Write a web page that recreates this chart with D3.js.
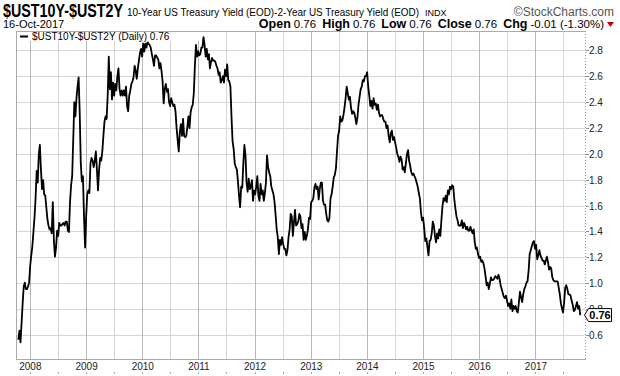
<!DOCTYPE html>
<html>
<head>
<meta charset="utf-8">
<script src="https://cdn.jsdelivr.net/npm/d3@7"></script>
<style>
  body { margin: 0; background: #fff; }
  svg { display: block; }
  text { font-family: "Liberation Sans", Arial, sans-serif; }
</style>
</head>
<body>
<div id="chart"></div>
<script>
// weekly closes of the 10Y-2Y spread, first week starting 2007-10-15
const weekStart = '2007-10-15'
const spread = [
  0.57, 0.64, 0.55, 0.70, 0.85, 0.98, 1.01, 0.96, 0.96, 0.98,
  1.01, 1.14, 1.22, 1.29, 1.40, 1.51, 1.66, 1.87, 1.78, 2.00,
  2.07, 1.88, 1.73, 1.80, 1.69, 1.68, 1.59, 1.50, 1.45, 1.42,
  1.43, 1.39, 1.63, 1.34, 1.21, 1.28, 1.41, 1.37, 1.47, 1.45,
  1.45, 1.46, 1.47, 1.45, 1.48, 1.48, 1.41, 1.40, 1.63, 1.76,
  1.83, 2.11, 2.40, 2.29, 2.43, 2.52, 2.59, 2.32, 1.93, 1.79,
  1.83, 1.52, 1.28, 1.52, 1.69, 1.72, 1.70, 1.93, 1.97, 1.95,
  1.90, 1.95, 2.02, 1.88, 1.72, 1.88, 1.97, 1.95, 2.02, 2.14,
  2.25, 2.29, 2.27, 2.45, 2.75, 2.50, 2.63, 2.42, 2.55, 2.45,
  2.54, 2.49, 2.60, 2.66, 2.50, 2.45, 2.49, 2.45, 2.49, 2.45,
  2.52, 2.37, 2.33, 2.45, 2.49, 2.54, 2.56, 2.59, 2.68, 2.64,
  2.58, 2.66, 2.72, 2.78, 2.81, 2.75, 2.85, 2.79, 2.85, 2.82,
  2.86, 2.85, 2.84, 2.82, 2.77, 2.73, 2.68, 2.76, 2.76, 2.74,
  2.73, 2.66, 2.70, 2.64, 2.56, 2.39, 2.50, 2.54, 2.48, 2.50,
  2.40, 2.37, 2.43, 2.40, 2.37, 2.38, 2.33, 2.20, 2.11, 2.02,
  2.17, 2.23, 2.14, 2.27, 2.14, 2.13, 2.14, 2.21, 2.29, 2.20,
  2.32, 2.36, 2.38, 2.47, 2.68, 2.84, 2.75, 2.79, 2.76, 2.77,
  2.82, 2.82, 2.90, 2.84, 2.75, 2.81, 2.73, 2.77, 2.66, 2.71,
  2.74, 2.72, 2.72, 2.71, 2.68, 2.66, 2.61, 2.63, 2.55, 2.57,
  2.60, 2.55, 2.65, 2.60, 2.69, 2.57, 2.56, 2.52, 2.29, 2.10,
  2.04, 1.93, 1.90, 1.88, 1.79, 1.68, 1.59, 1.75, 1.74, 1.93,
  2.07, 1.99, 1.78, 1.71, 1.81, 1.73, 1.75, 1.80, 1.64, 1.72,
  1.69, 1.75, 1.83, 1.68, 1.64, 1.77, 1.69, 1.72, 1.64, 1.70,
  1.78, 1.99, 1.90, 1.86, 1.83, 1.75, 1.72, 1.69, 1.63, 1.53,
  1.42, 1.36, 1.23, 1.34, 1.30, 1.36, 1.31, 1.27, 1.27, 1.22,
  1.26, 1.36, 1.42, 1.54, 1.52, 1.37, 1.47, 1.57, 1.45, 1.46,
  1.48, 1.54, 1.52, 1.43, 1.46, 1.34, 1.40, 1.34, 1.37, 1.42,
  1.51, 1.50, 1.63, 1.64, 1.66, 1.74, 1.77, 1.73, 1.75, 1.65,
  1.73, 1.78, 1.78, 1.64, 1.61, 1.61, 1.54, 1.49, 1.48, 1.51,
  1.66, 1.69, 1.75, 1.82, 1.84, 1.89, 2.02, 2.14, 2.18, 2.29,
  2.25, 2.26, 2.30, 2.36, 2.43, 2.52, 2.47, 2.42, 2.44, 2.36,
  2.31, 2.33, 2.32, 2.28, 2.23, 2.28, 2.38, 2.44, 2.50, 2.52,
  2.57, 2.56, 2.60, 2.60, 2.63, 2.52, 2.45, 2.37, 2.41, 2.35,
  2.43, 2.38, 2.39, 2.34, 2.38, 2.32, 2.29, 2.30, 2.30, 2.27,
  2.25, 2.25, 2.20, 2.22, 2.14, 2.09, 2.16, 2.18, 2.11, 2.13,
  2.09, 2.05, 2.00, 1.98, 1.94, 1.98, 1.96, 1.88, 1.90, 1.86,
  1.93, 2.00, 2.03, 1.95, 1.91, 1.86, 1.84, 1.85, 1.83, 1.81,
  1.78, 1.75, 1.70, 1.66, 1.55, 1.49, 1.51, 1.43, 1.33, 1.35,
  1.29, 1.22, 1.33, 1.34, 1.39, 1.48, 1.45, 1.37, 1.32, 1.39,
  1.35, 1.42, 1.37, 1.49, 1.60, 1.66, 1.64, 1.68, 1.63, 1.72,
  1.69, 1.75, 1.73, 1.76, 1.75, 1.65, 1.58, 1.52, 1.49, 1.45,
  1.45, 1.45, 1.49, 1.43, 1.47, 1.45, 1.42, 1.44, 1.41, 1.41,
  1.44, 1.41, 1.39, 1.42, 1.32, 1.27, 1.28, 1.23, 1.20, 1.21,
  1.17, 1.18, 1.16, 1.12, 1.06, 0.99, 1.01, 0.96, 1.00, 1.05,
  1.03, 1.03, 1.04, 1.06, 1.05, 1.04, 1.07, 1.04, 0.99, 0.96,
  0.93, 0.90, 0.89, 0.91, 0.87, 0.83, 0.85, 0.81, 0.88, 0.79,
  0.83, 0.81, 0.83, 0.79, 0.78, 0.86, 0.94, 0.90, 0.86, 0.92,
  0.96, 0.98, 1.01, 1.02, 1.10, 1.23, 1.26, 1.29, 1.32, 1.33,
  1.27, 1.30, 1.19, 1.22, 1.26, 1.22, 1.20, 1.18, 1.18, 1.15,
  1.18, 1.21, 1.17, 1.11, 1.13, 1.12, 1.05, 1.03, 1.02, 1.02,
  1.02, 1.02, 0.97, 0.92, 0.85, 0.81, 0.78, 0.86, 0.97, 0.99,
  0.96, 0.92, 0.92, 0.91, 0.87, 0.84, 0.79, 0.80, 0.83, 0.86,
  0.81, 0.83, 0.76
]
const yTicks = [0.6, 0.8, 1.0, 1.2, 1.4, 1.6, 1.8, 2.0, 2.2, 2.4, 2.6, 2.8]
const xDomain = ['2007-10-03', '2017-11-19']
const yDomain = [0.418, 2.944]

const symbol = '$UST10Y-$UST2Y'
const subtitle = '10-Year US Treasury Yield (EOD)-2-Year US Treasury Yield (EOD)'
const exchange = 'INDX'
const asOf = '16-Oct-2017'
const quote = [['Open', '0.76'], ['High', '0.76'], ['Low', '0.76'], ['Close', '0.76'], ['Chg', '-0.01 (-1.30%)']]
const lastValue = 0.76

let dms = {
    width: 620,
    height: 376,
    left: 16,
    right: 585,
    top: 31,
    bottom: 359
}

const parse = d3.timeParse('%Y-%m-%d')
const start = parse(weekStart)
const dataset = spread.map((v, i) => ({ date: d3.timeWeek.offset(start, i), value: v }))

const svg = d3.select('#chart').append('svg')
    .attr('width', dms.width)
    .attr('height', dms.height)

// layers, back to front
const gridLayer = svg.append('g').attr('id', 'grid')
const lineLayer = svg.append('g').attr('id', 'series')
const axisLayer = svg.append('g').attr('id', 'axes')
const legendLayer = svg.append('g').attr('id', 'legend')
const headLayer = svg.append('g').attr('id', 'head')

const xScale = d3.scaleTime()
    .domain(xDomain.map(parse))
    .range([dms.left + 0.5, dms.right + 0.5])
const yScale = d3.scaleLinear()
    .domain(yDomain)
    .range([dms.bottom + 0.5, dms.top + 0.5])

const snap = v => Math.round(v - 0.5)

const years = d3.timeYear.range(d3.timeYear.ceil(xScale.domain()[0]), xScale.domain()[1])
const halves = d3.timeMonth.range(xScale.domain()[0], xScale.domain()[1])
    .filter(d => d.getMonth() === 6)

// grid drawn as 1px filled strips
gridLayer.append('rect')
    .attr('x', dms.left).attr('y', dms.top)
    .attr('width', dms.right - dms.left).attr('height', dms.bottom - dms.top)
    .attr('fill', '#fff')
gridLayer.selectAll('rect.h')
    .data(yTicks)
    .join('rect')
    .attr('class', 'h')
    .attr('x', dms.left).attr('width', dms.right - dms.left)
    .attr('y', d => snap(yScale(d))).attr('height', 1)
    .attr('fill', '#d6d6d6')
gridLayer.selectAll('rect.m')
    .data(halves)
    .join('rect')
    .attr('class', 'm')
    .attr('x', d => snap(xScale(d))).attr('width', 1)
    .attr('y', dms.top).attr('height', dms.bottom - dms.top)
    .attr('fill', '#d6d6d6')
gridLayer.selectAll('rect.y')
    .data(years)
    .join('rect')
    .attr('class', 'y')
    .attr('x', d => snap(xScale(d))).attr('width', 1)
    .attr('y', dms.top).attr('height', dms.bottom - dms.top)
    .attr('fill', '#b8b8b8')
// frame: top, left, bottom solid; right dotted
gridLayer.append('rect')
    .attr('x', dms.left).attr('y', dms.top).attr('width', dms.right - dms.left).attr('height', 1)
    .attr('fill', '#aaa')
gridLayer.append('rect')
    .attr('x', dms.left).attr('y', dms.top).attr('width', 1).attr('height', dms.bottom - dms.top + 1)
    .attr('fill', '#aaa')
gridLayer.append('rect')
    .attr('x', dms.left).attr('y', dms.bottom).attr('width', dms.right - dms.left + 1).attr('height', 1)
    .attr('fill', '#aaa')
gridLayer.append('line')
    .attr('x1', dms.right + 0.5).attr('x2', dms.right + 0.5)
    .attr('y1', dms.top).attr('y2', dms.bottom)
    .attr('stroke', '#999')
    .attr('stroke-dasharray', '1,2')

// series
const lineGenerator = d3.line()
    .x(d => xScale(d.date))
    .y(d => yScale(d.value))
lineLayer.append('path')
    .attr('d', lineGenerator(dataset))
    .attr('fill', 'none')
    .attr('stroke', '#000')
    .attr('stroke-width', 1.8)
    .attr('stroke-linejoin', 'round')

// y axis on the right
axisLayer.selectAll('rect.yt')
    .data(yTicks)
    .join('rect')
    .attr('class', 'yt')
    .attr('x', dms.right + 1).attr('width', 3)
    .attr('y', d => snap(yScale(d))).attr('height', 1)
    .attr('fill', '#888')
axisLayer.selectAll('text.yl')
    .data(yTicks)
    .join('text')
    .attr('class', 'yl')
    .attr('x', dms.right + 4)
    .attr('y', d => yScale(d) + 3.5)
    .attr('font-size', 10)
    .attr('fill', '#222')
    .text(d3.format('.1f'))

// x axis labels
axisLayer.selectAll('text.xl')
    .data(years)
    .join('text')
    .attr('class', 'xl')
    .attr('x', d => xScale(d))
    .attr('y', dms.bottom + 11)
    .attr('text-anchor', 'middle')
    .attr('font-size', 10)
    .attr('fill', '#222')
    .text(d3.timeFormat('%Y'))
axisLayer.selectAll('rect.xt')
    .data(years.concat(halves))
    .join('rect')
    .attr('class', 'xt')
    .attr('x', d => snap(xScale(d))).attr('width', 1)
    .attr('y', dms.bottom + 13).attr('height', 2)
    .attr('fill', '#aaa')

// last value tag
const tagY = yScale(lastValue)
axisLayer.append('path')
    .attr('d', `M${dms.right - 0.5},${tagY} L${dms.right + 3.5},${tagY - 6.5} H${dms.right + 26.5} V${tagY + 6.5} H${dms.right + 3.5} Z`)
    .attr('fill', '#fff')
    .attr('stroke', '#000')
axisLayer.append('text')
    .attr('x', dms.right + 15).attr('y', tagY + 4)
    .attr('text-anchor', 'middle')
    .attr('font-size', 11)
    .attr('font-weight', 'bold')
    .text(lastValue.toFixed(2))

// legend
legendLayer.append('rect')
    .attr('x', dms.left + 1).attr('y', dms.top + 1)
    .attr('width', 182).attr('height', 9)
    .attr('fill', '#fff')
legendLayer.append('line')
    .attr('x1', 20).attr('x2', 28)
    .attr('y1', 36.5).attr('y2', 36.5)
    .attr('stroke', '#000').attr('stroke-width', 2)
legendLayer.append('text')
    .attr('x', 32).attr('y', 40)
    .attr('font-family', '"DejaVu Sans", Verdana, sans-serif')
    .attr('font-size', 10)
    .text(`${symbol} (Daily) ${lastValue.toFixed(2)}`)

// header
headLayer.append('text')
    .attr('x', 3).attr('y', 17)
    .attr('font-size', 18)
    .attr('font-weight', 'bold')
    .attr('textLength', 120)
    .attr('lengthAdjust', 'spacingAndGlyphs')
    .text(symbol)
headLayer.append('text')
    .attr('x', 127).attr('y', 16)
    .attr('font-size', 11.5)
    .attr('textLength', 292)
    .attr('lengthAdjust', 'spacingAndGlyphs')
    .text(subtitle)
headLayer.append('text')
    .attr('x', 425).attr('y', 16)
    .attr('font-family', '"DejaVu Sans", Verdana, sans-serif')
    .attr('font-size', 9)
    .text(exchange)
headLayer.append('text')
    .attr('x', 614).attr('y', 16)
    .attr('text-anchor', 'end')
    .attr('font-size', 12)
    .attr('fill', '#555')
    .text('\u00a9StockCharts.com')
headLayer.append('text')
    .attr('x', 3).attr('y', 28)
    .attr('font-size', 11)
    .text(asOf)

const q = headLayer.append('text')
    .attr('x', 604).attr('y', 28)
    .attr('text-anchor', 'end')
    .attr('font-size', 11.5)
quote.forEach((p, i) => {
    q.append('tspan')
        .attr('font-weight', 'bold')
        .attr('font-size', 12.5)
        .attr('dx', i === 0 ? 0 : 6)
        .text(p[0])
    q.append('tspan')
        .attr('dx', 3)
        .text(p[1])
})
headLayer.append('path')
    .attr('d', 'M607,22 H614 L610.5,27 Z')
    .attr('fill', '#c00')
</script>
</body>
</html>
